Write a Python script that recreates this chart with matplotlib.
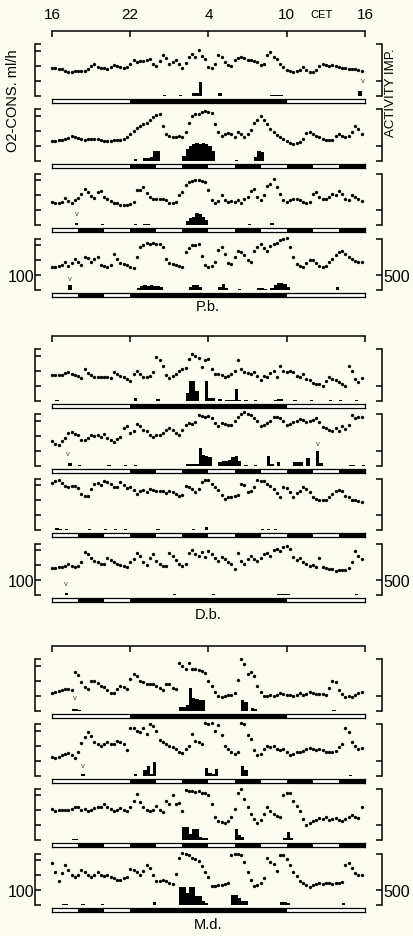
import matplotlib
matplotlib.use("Agg")
import matplotlib.pyplot as plt
import numpy as np

plt.rcParams["font.family"] = ["Liberation Sans", "DejaVu Sans"]

BG = "#fdfcf0"
W, H = 414, 937

# time axis: 96 readings every 15 min, 16 h CET -> 16 h CET
hours = np.arange(96) * 0.25
hour_ticks = [0, 6, 12, 18, 24]
hour_labels = ["16", "22", "4", "10", "16"]

# O2 consumption (ml/h), one list per recording
o2_pb1 = [184, 182, 180, 176, 168, 158, 160, 162, 163, 165, 168, 180, 200, 210, 195, 188,
          182, 180, 195, 205, 200, 192, 188, 195, 215, 240, 228, 232, 230, 238, 246, 210,
          198, 230, 275, 255, 215, 228, 236, 214, 182, 222, 262, 282, 258, 306, 265, 245,
          192, 186, 212, 272, 262, 225, 208, 202, 236, 250, 262, 250, 236, 240, 230, 224,
          206, 214, 272, 290, 258, 245, 212, 190, 170, 162, 160, 168, 174, 190, 174, 160,
          158, 172, 200, 214, 205, 200, 204, 198, 192, 186, 182, 180, 178, 176, 170, 164]
o2_pb2 = [130, 133, 135, 138, 143, 150, 165, 158, 150, 145, 140, 143, 146, 148, 145, 138,
          133, 130, 133, 138, 137, 140, 143, 155, 178, 200, 222, 233, 245, 255, 275, 292,
          305, 315, 233, 178, 167, 155, 157, 167, 160, 190, 255, 300, 310, 315, 325, 333,
          330, 320, 245, 190, 168, 178, 188, 178, 160, 190, 178, 160, 178, 205, 250, 272,
          300, 270, 245, 215, 195, 170, 160, 148, 130, 115, 110, 116, 122, 145, 188, 195,
          178, 168, 158, 148, 136, 138, 135, 168, 178, 162, 158, 168, 190, 235, 210, 178]
o2_pb3 = [155, 150, 150, 155, 180, 165, 150, 170, 185, 210, 240, 222, 193, 182, 222, 228,
          190, 172, 162, 150, 145, 138, 135, 135, 140, 155, 238, 235, 258, 215, 188, 172,
          172, 178, 172, 168, 150, 150, 155, 204, 222, 270, 288, 295, 300, 300, 295, 290,
          238, 168, 148, 160, 200, 168, 155, 162, 155, 168, 150, 178, 190, 232, 240, 190,
          168, 200, 260, 275, 310, 255, 210, 168, 155, 168, 172, 178, 168, 155, 150, 155,
          210, 222, 190, 178, 172, 190, 210, 200, 230, 210, 172, 168, 200, 190, 172, 160]
o2_pb4 = [155, 155, 160, 170, 188, 165, 180, 210, 190, 170, 222, 215, 190, 210, 220, 168,
          165, 155, 168, 240, 210, 180, 172, 168, 155, 150, 222, 290, 305, 315, 310, 315,
          310, 312, 290, 210, 182, 172, 168, 160, 155, 255, 285, 300, 305, 310, 228, 168,
          158, 165, 190, 270, 290, 245, 185, 178, 222, 265, 255, 235, 200, 188, 265, 290,
          310, 280, 265, 295, 310, 320, 335, 345, 348, 290, 225, 175, 165, 155, 180, 200,
          200, 180, 165, 155, 160, 190, 210, 235, 255, 265, 245, 225, 210, 195, 190, 190]
o2_db1 = [169, 169, 169, 173, 186, 195, 178, 170, 165, 153, 210, 185, 172, 160, 160, 160,
          160, 158, 150, 195, 180, 168, 155, 142, 130, 180, 200, 180, 155, 158, 168, 195,
          295, 275, 235, 170, 150, 168, 180, 200, 210, 222, 280, 310, 300, 285, 225, 270,
          280, 215, 180, 180, 175, 160, 168, 180, 200, 275, 210, 195, 185, 180, 190, 168,
          135, 168, 158, 188, 200, 158, 235, 200, 190, 200, 190, 168, 160, 178, 145, 135,
          115, 108, 112, 98, 130, 158, 148, 135, 125, 110, 95, 235, 200, 148, 125, 150]
o2_db2 = [164, 147, 138, 162, 182, 220, 226, 213, 204, 170, 175, 186, 204, 198, 208, 190,
          213, 186, 170, 160, 180, 195, 250, 265, 220, 235, 280, 265, 240, 235, 208, 190,
          205, 208, 220, 240, 255, 242, 220, 208, 240, 275, 285, 280, 295, 340, 335, 330,
          335, 320, 285, 265, 285, 280, 275, 275, 297, 330, 350, 360, 350, 340, 320, 297,
          268, 275, 285, 297, 330, 330, 320, 300, 270, 280, 295, 300, 315, 308, 290, 297,
          308, 322, 290, 260, 250, 240, 235, 250, 235, 265, 245, 275, 340, 320, 330, 325]
o2_db3 = [320, 330, 336, 315, 295, 288, 298, 298, 280, 245, 232, 232, 275, 310, 320, 305,
          330, 322, 308, 290, 293, 322, 303, 280, 290, 270, 245, 262, 270, 253, 275, 270,
          265, 260, 260, 252, 265, 258, 242, 228, 235, 298, 290, 275, 255, 278, 325, 340,
          335, 310, 290, 268, 235, 210, 220, 222, 228, 234, 310, 305, 255, 262, 288, 335,
          332, 328, 313, 295, 275, 250, 222, 288, 285, 255, 222, 250, 262, 290, 275, 255,
          225, 208, 200, 202, 205, 222, 240, 262, 270, 260, 230, 220, 205, 200, 195, 192]
o2_db4 = [182, 184, 190, 186, 196, 209, 198, 186, 198, 220, 290, 275, 250, 230, 220, 210,
          212, 250, 235, 220, 208, 204, 198, 192, 220, 240, 285, 265, 220, 204, 250, 275,
          230, 208, 198, 198, 280, 265, 235, 210, 198, 210, 285, 300, 275, 260, 290, 255,
          297, 275, 250, 230, 255, 240, 220, 208, 175, 285, 230, 210, 240, 262, 240, 230,
          250, 275, 285, 265, 300, 310, 295, 322, 330, 310, 255, 235, 250, 220, 208, 198,
          200, 190, 250, 190, 182, 178, 172, 165, 168, 168, 168, 180, 220, 295, 265, 245]
o2_md1 = [120, 124, 129, 138, 146, 144, 138, 260, 240, 190, 158, 142, 202, 198, 186, 166,
          155, 138, 120, 115, 146, 162, 158, 146, 215, 245, 230, 200, 190, 180, 180, 178,
          168, 152, 140, 180, 180, 150, 145, 320, 300, 280, 322, 280, 282, 272, 264, 255,
          200, 162, 125, 100, 92, 98, 102, 106, 120, 205, 345, 315, 245, 262, 230, 165,
          125, 98, 98, 102, 98, 106, 118, 113, 102, 106, 98, 106, 118, 105, 113, 124,
          120, 113, 113, 113, 106, 150, 200, 190, 135, 113, 92, 98, 92, 106, 120, 128]
o2_md2 = [124, 120, 126, 135, 146, 150, 135, 118, 158, 220, 262, 295, 265, 225, 213, 202,
          213, 224, 213, 213, 235, 224, 213, 170, 320, 318, 300, 295, 320, 280, 345, 335,
          300, 240, 224, 213, 200, 190, 180, 160, 150, 180, 202, 280, 235, 224, 213, 357,
          345, 357, 300, 340, 270, 202, 180, 158, 146, 158, 357, 345, 270, 245, 170, 135,
          146, 180, 202, 192, 202, 180, 170, 180, 160, 135, 146, 158, 158, 168, 180, 185,
          180, 170, 180, 170, 160, 155, 158, 168, 192, 210, 320, 290, 224, 202, 180, 182]
o2_md3 = [209, 198, 202, 202, 202, 202, 209, 224, 220, 202, 209, 193, 202, 215, 224, 220,
          242, 224, 209, 198, 202, 215, 202, 193, 222, 260, 309, 254, 220, 202, 193, 202,
          231, 202, 186, 265, 240, 305, 245, 250, 198, 340, 333, 330, 326, 330, 320, 320,
          305, 245, 158, 131, 120, 113, 131, 153, 209, 320, 345, 275, 220, 175, 142, 113,
          135, 175, 225, 198, 175, 164, 158, 305, 315, 320, 265, 230, 193, 142, 104, 113,
          126, 135, 148, 142, 155, 135, 142, 148, 135, 131, 142, 155, 166, 155, 148, 220]
o2_md4 = [280, 224, 162, 215, 268, 235, 200, 190, 205, 233, 222, 205, 190, 200, 220, 205,
          198, 202, 190, 184, 170, 168, 180, 190, 240, 235, 224, 202, 230, 272, 250, 205,
          162, 165, 170, 160, 150, 140, 210, 320, 350, 345, 335, 318, 310, 295, 262, 224,
          190, 126, 130, 135, 135, 140, 148, 340, 345, 345, 335, 290, 225, 170, 126, 135,
          146, 180, 320, 290, 275, 230, 340, 340, 310, 270, 220, 198, 160, 148, 135, 124,
          135, 140, 146, 140, 146, 146, 140, 146, 146, 155, 270, 285, 250, 215, 205, 205]

# activity impulses per 15-min bin: (bin index, impulses)
act_pb1 = [(34, 30), (39, 30), (43, 100), (44, 100), (45, 470), (51, 100), (67, 25),
           (68, 25), (69, 25), (70, 25), (94, 160)]
act_pb2 = [(25, 60), (28, 100), (29, 100), (30, 110), (31, 330), (32, 330), (40, 150),
           (41, 380), (42, 480), (43, 560), (44, 590), (45, 560), (46, 590), (47, 570),
           (48, 500), (49, 330), (56, 30), (62, 130), (63, 330), (64, 300)]
act_pb3 = [(7, 80), (15, 30), (25, 30), (28, 30), (29, 30), (41, 150), (42, 250),
           (43, 280), (44, 400), (45, 380), (46, 260), (47, 180), (60, 30), (67, 60)]
act_pb4 = [(5, 160), (26, 80), (27, 150), (28, 165), (29, 150), (30, 165), (31, 150),
           (32, 140), (33, 90), (42, 100), (43, 165), (44, 160), (45, 100), (51, 100),
           (52, 200), (53, 80), (57, 30), (63, 60), (64, 60), (65, 40), (67, 60),
           (68, 180), (69, 230), (70, 230), (71, 200), (72, 100), (87, 90)]
act_db1 = [(1, 30), (25, 90), (32, 40), (41, 250), (42, 660), (43, 660), (44, 330),
           (47, 660), (48, 100), (49, 80), (51, 60), (53, 30), (54, 30), (55, 30),
           (56, 400), (57, 30), (59, 30), (62, 30), (68, 30), (69, 40), (70, 40),
           (74, 30), (79, 30), (85, 30), (88, 30), (93, 30)]
act_db2 = [(5, 80), (8, 30), (17, 30), (22, 30), (25, 30), (41, 40), (42, 60), (43, 60),
           (44, 60), (45, 600), (46, 360), (47, 330), (48, 300), (51, 130), (52, 150),
           (53, 160), (54, 200), (55, 300), (56, 330), (57, 160), (59, 30), (62, 30),
           (66, 330), (67, 60), (69, 130), (74, 130), (75, 120), (76, 130), (78, 260),
           (81, 500), (82, 80), (91, 30), (92, 30), (95, 30)]
act_db3 = [(1, 60), (2, 30), (4, 20), (11, 30), (16, 30), (19, 30), (22, 30), (32, 30),
           (43, 30), (47, 90), (64, 30), (66, 30), (68, 30)]
act_db4 = [(4, 70), (37, 30), (49, 30), (69, 30), (70, 30), (71, 30), (72, 30), (93, 30)]
act_md1 = [(6, 60), (7, 60), (8, 30), (39, 130), (40, 130), (41, 200), (42, 750),
           (43, 420), (44, 400), (45, 340), (46, 340), (58, 340), (59, 300), (61, 100),
           (62, 60), (86, 30)]
act_md2 = [(9, 40), (25, 60), (28, 200), (29, 330), (30, 60), (31, 460), (47, 260),
           (48, 100), (49, 60), (50, 230), (58, 330), (59, 200), (91, 30)]
act_md3 = [(6, 30), (7, 30), (40, 450), (41, 450), (42, 200), (43, 380), (44, 380),
           (45, 100), (46, 60), (47, 60), (56, 380), (57, 160), (58, 100), (71, 60),
           (72, 260), (73, 60)]
act_md4 = [(3, 30), (4, 30), (9, 30), (15, 30), (31, 90), (39, 620), (40, 620),
           (41, 400), (42, 590), (43, 590), (44, 290), (45, 290), (46, 120), (47, 60),
           (55, 340), (56, 340), (57, 230), (58, 120), (59, 120), (70, 90), (71, 90),
           (72, 60), (89, 60)]

# dark phases (start hour, duration) of the light/dark bar under each record
dark_a = [(6, 12)]
dark_b = [(6, 2), (10, 2), (14, 2), (18, 2), (22, 2)]
dark_c = [(2, 2), (6, 2), (10, 2), (14, 2), (18, 2), (22, 2)]
dark_d = [(2, 2), (6, 12)]

# "v" marks (hour, O2 units)
marks_pb = [[(23.85, 100)], [], [(1.9, 80)], [(1.4, 80)]]
marks_db = [[], [(1.25, 80), (20.4, 150)], [], [(1.05, 75)]]
marks_md = [[(1.75, 90)], [(2.4, 65)], [], []]

groups = [
    ("P.b.", [o2_pb1, o2_pb2, o2_pb3, o2_pb4], [act_pb1, act_pb2, act_pb3, act_pb4], marks_pb),
    ("D.b.", [o2_db1, o2_db2, o2_db3, o2_db4], [act_db1, act_db2, act_db3, act_db4], marks_db),
    ("M.d.", [o2_md1, o2_md2, o2_md3, o2_md4], [act_md1, act_md2, act_md3, act_md4], marks_md),
]
darks = [dark_a, dark_b, dark_c, dark_d]


def fbox(x0, y0, x1, y1):
    return [x0 / W, 1 - y1 / H, (x1 - x0) / W, (y1 - y0) / H]


X0, X1 = 52, 365
YTOP = 347
group_tops = [45, 350, 660]
label_y = [307, 615, 925]
panel_offsets = [0, 65, 129.5, 194.5]
PH = 51.5

fig = plt.figure(figsize=(W / 100, H / 100), dpi=100, facecolor=BG)

for g, (name, o2s, acts, marks) in enumerate(groups):
    gtop = group_tops[g]

    # hour axis above each group
    axt = fig.add_axes(fbox(X0, gtop - 13, X1, gtop - 8))
    axt.set_xlim(0, 24)
    axt.set_ylim(0, 1)
    axt.patch.set_visible(False)
    for s in ["left", "right", "bottom"]:
        axt.spines[s].set_visible(False)
    axt.spines["top"].set_linewidth(1.1)
    axt.set_yticks([])
    axt.set_xticks(hour_ticks)
    axt.tick_params(axis="x", top=True, bottom=False, direction="in", length=4,
                    width=1.1, labeltop=(g == 0), labelbottom=False, labelsize=11, pad=7)
    if g == 0:
        axt.set_xticklabels(hour_labels)
        fig.text((X0 + 20.7 * (X1 - X0) / 24) / W, 1 - 15 / H, "CET", ha="center",
                 va="center", fontsize=8)
    else:
        axt.set_xticklabels([])

    for p in range(4):
        top = gtop + panel_offsets[p]
        bot = top + PH
        ax = fig.add_axes(fbox(X0, top, X1, bot))
        ax.patch.set_visible(False)
        ax.set_xlim(0, 24)
        ax.set_ylim(0, YTOP)
        ax.plot(hours, o2s[p], "o", color="k", markersize=2.4, markeredgewidth=0,
                clip_on=False)
        bins = np.array([b for b, _ in acts[p]])
        imp = np.array([v for _, v in acts[p]])
        ax.bar(bins * 0.25, imp / 5.0, width=0.25, align="edge", color="k", linewidth=0)
        for hx, hy in marks[p]:
            ax.text(hx, hy, "v", ha="center", va="center", fontsize=5.5, color="#444444")

        ax.spines["top"].set_visible(False)
        ax.spines["bottom"].set_visible(False)
        ax.spines["right"].set_visible(False)
        ax.spines["left"].set_position(("outward", 12))
        ax.spines["left"].set_linewidth(1.1)
        ax.set_xticks([])
        ax.set_yticks([0, 100, 200, 300, YTOP])
        ax.set_yticklabels(["", "100" if p == 3 else "", "", "", ""])
        ax.tick_params(axis="y", direction="in", length=4, width=1.1, labelsize=11.5, pad=1)

        axr = ax.twinx()
        axr.set_ylim(0, YTOP)
        axr.patch.set_visible(False)
        for s in ["top", "bottom", "left"]:
            axr.spines[s].set_visible(False)
        axr.spines["right"].set_position(("outward", 12))
        axr.spines["right"].set_linewidth(1.1)
        axr.set_yticks([0, 100, YTOP])
        axr.set_yticklabels(["", "500" if p == 3 else "", ""])
        axr.tick_params(axis="y", direction="in", length=4, width=1.1, labelsize=11.5, pad=1)

        # light / dark bar
        axb = fig.add_axes(fbox(X0, bot + 3, X1, bot + 7))
        axb.set_facecolor("white")
        axb.set_xlim(0, 24)
        axb.set_ylim(0, 1)
        axb.broken_barh(darks[p], (0, 1), facecolors="k")
        axb.set_xticks([])
        axb.set_yticks([])
        for s in axb.spines.values():
            s.set_linewidth(0.9)

    fig.text(208 / W, 1 - label_y[g] / H, name, ha="center", va="center", fontsize=10.5)

fig.text(13 / W, 1 - 101 / H, "O2-CONS. ml/h", rotation=90, ha="center", va="center",
         fontsize=10.5)
fig.text(391 / W, 1 - 93 / H, "ACTIVITY IMP.", rotation=90, ha="center", va="center",
         fontsize=9.5)

fig.savefig("out.png", dpi=100, facecolor=BG)
